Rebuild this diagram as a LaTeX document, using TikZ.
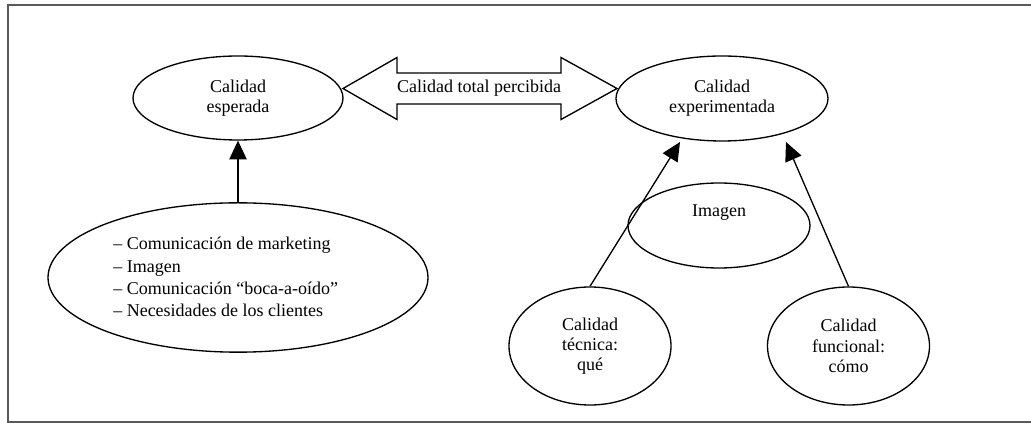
\documentclass[tikz,border=0pt]{standalone}
\usepackage{fontspec}
\setmainfont{Liberation Serif}
\usetikzlibrary{arrows.meta,shapes.geometric}
\begin{document}
\begin{tikzpicture}[x=0.75pt,y=-0.75pt,
  txt/.style={inner sep=0pt, align=center, font=\fontsize{13.5}{15}\selectfont},
  ell/.style={draw, ellipse, line width=1pt, inner sep=0pt, align=center, font=\fontsize{13.5}{15.2}\selectfont},
  arr/.style={line width=1pt, -{Triangle[length=14pt,width=13pt]}},
]
\useasboundingbox (0,0) rectangle (1031,423);
\draw[line width=1.5pt, black!65] (1045,5) -- (8,5) -- (8,422) -- (1045,422);

\node[ell, minimum width=157.5pt, minimum height=63pt] (esp) at (238,98) {Calidad\\esperada};
\node[ell, minimum width=159pt, minimum height=63.75pt] (exp) at (722,98.5) {Calidad\\experimentada};

\node[ell, minimum width=285pt, minimum height=112pt] (lst) at (238,277.5) {};
\node[txt, align=left, anchor=west, font=\fontsize{13.5}{16.7}\selectfont] (lsttxt) at (113,277) {– Comunicación de marketing\\– Imagen\\– Comunicación “boca-a-oído”\\– Necesidades de los clientes};

\node[ell, minimum width=136.5pt, minimum height=63.75pt] (img) at (719,225.5) {};
\node[txt] (imgtxt) at (719,213) {Imagen};

\node[ell, minimum width=121.5pt, minimum height=88.5pt] (tec) at (590,346) {Calidad\\técnica:\\qué};
\node[ell, minimum width=121.5pt, minimum height=88.5pt] (fun) at (848.5,346) {Calidad\\funcional:\\cómo};

% double arrow
\draw[line width=1pt] (343,88.5) -- (397,57.5) -- (397,73) -- (561,73) -- (561,57.5) -- (617,88.5)
  -- (561,119.5) -- (561,104) -- (397,104) -- (397,119.5) -- cycle;
\node[txt] (ctp) at (479,88.5) {Calidad total percibida};

\draw[arr] (lst.north) -- (esp.south);
\coordinate (tipT) at (680,142);
\coordinate (tipF) at (786,142);
\draw[arr] (tec.north) -- (tipT);
\draw[arr] (fun.north) -- (tipF);
\end{tikzpicture}
\end{document}
